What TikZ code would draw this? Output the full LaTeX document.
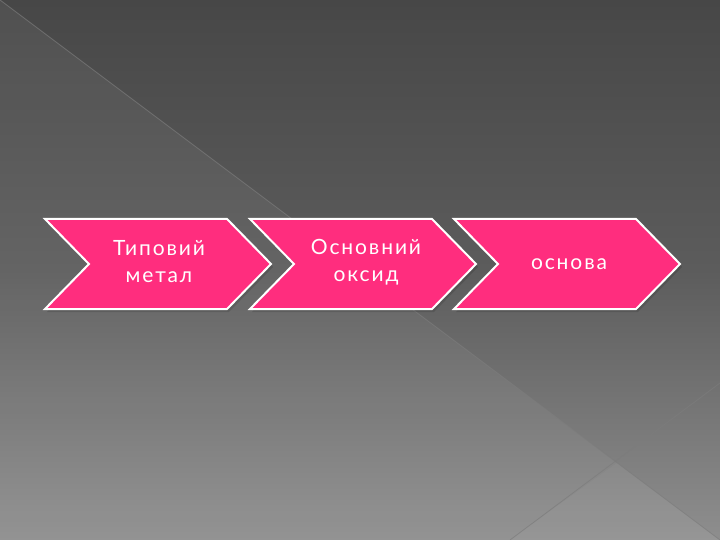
\documentclass[tikz,border=0pt]{standalone}
\usepackage{fontspec}
\setmainfont{Lato}[LetterSpace=9]
\definecolor{bgtop}{HTML}{474747}
\definecolor{bgmid}{HTML}{5C5C5C}
\definecolor{bgbot}{HTML}{8E8E8E}
\definecolor{chevpink}{HTML}{FF2D7E}
\definecolor{diagline}{HTML}{7C7C7C}
\tikzset{
  chevshape/.style={fill=chevpink, draw=white, line width=2pt, line join=miter},
  chevshadow/.style={fill=black, opacity=0.12},
  chevtext/.style={text=white, align=center, font=\fontsize{21}{27}\selectfont},
  bgline/.style={draw=diagline, line width=0.8pt, opacity=0.7}
}
\newcommand{\chevpath}[1]{(#1,219) -- ++(182,0) -- ++(44,45) -- ++(-44,45) -- ++(-182,0) -- ++(44,-45) -- cycle}
\begin{document}
\begin{tikzpicture}[x=1pt,y=-1pt]
\useasboundingbox (0,0) rectangle (720,540);
% background
\shade[top color=bgtop, bottom color=bgbot, middle color=bgmid] (0,0) rectangle (720,540);
\fill[white, opacity=0.05] (0,0) -- (720,540) -- (0,540) -- cycle;
\fill[white, opacity=0.03] (617,463) -- (720,540) -- (510,540) -- cycle;
\draw[bgline] (0,0) -- (720,540);
\draw[bgline] (510,540) -- (720,383);
% shadows
\foreach \x in {45,250,454} {
  \fill[chevshadow] [shift={(2,3)}] \chevpath{\x};
}
% chevrons
\foreach \x in {45,250,454} {
  \draw[chevshape] \chevpath{\x};
}
% labels
\node[chevtext] (c1) at (159,262) {Типовий\\метал};
\node[chevtext] (c2) at (366,262) {Основний\\оксид};
\node[chevtext] (c3) at (569,264) {основа};
\end{tikzpicture}
\end{document}
